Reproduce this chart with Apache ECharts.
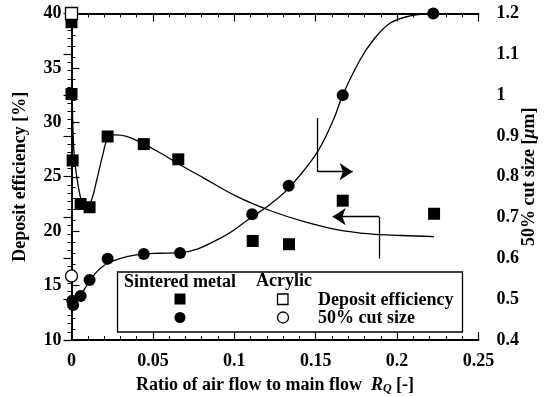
<!DOCTYPE html>
<html>
<head>
<meta charset="utf-8">
<script src="https://cdn.jsdelivr.net/npm/echarts@6/dist/echarts.min.js"></script>
<style>
html, body { margin: 0; padding: 0; background: #fff; }
#main { width: 547px; height: 397px; }
</style>
</head>
<body>
<div id="main"></div>
<script>
// sintered metal, deposit efficiency [%] (left axis)
var deX = [0, 0, 0.0007, 0.0056, 0.0111, 0.0222, 0.0444, 0.0656, 0.1113, 0.1336, 0.1666, 0.2227];
var deY = [39.2, 32.6, 26.5, 22.5, 22.2, 28.7, 28.0, 26.6, 19.1, 18.8, 22.8, 21.6];
// sintered metal, 50% cut size [um] (right axis)
var csX = [0.0005, 0.001, 0.0056, 0.0111, 0.0222, 0.0444, 0.0667, 0.111, 0.1334, 0.1666, 0.2222];
var csY = [0.496, 0.486, 0.508, 0.547, 0.599, 0.611, 0.613, 0.708, 0.778, 1.0, 1.2];
// acrylic
var deAcX = [0], deAcY = [40];
var csAcX = [0], csAcY = [0.557];
// fitted curves
var deFitX = [0, 0.0004, 0.0011, 0.0021, 0.0042, 0.0063, 0.0089, 0.0124, 0.0155, 0.0195, 0.0222, 0.0267, 0.0339, 0.0445, 0.0544, 0.0656, 0.081, 0.1015, 0.1219, 0.1424, 0.1629, 0.1834, 0.2027, 0.2227];
var deFitY = [40, 33, 28.4, 26.3, 24.1, 22.7, 22.0, 22.9, 24.7, 27.2, 28.5, 28.84, 28.7, 28.0, 27.2, 26.2, 24.9, 23.2, 21.9, 20.9, 20.15, 19.75, 19.6, 19.5];
var csFitX = [0, 0.0021, 0.0052, 0.0083, 0.0109, 0.0155, 0.0222, 0.0339, 0.0445, 0.0544, 0.0667, 0.0912, 0.111, 0.1219, 0.1334, 0.1506, 0.1608, 0.1666, 0.1772, 0.1854, 0.1956, 0.2079, 0.2222];
var csFitY = [0.486, 0.498, 0.506, 0.527, 0.543, 0.567, 0.588, 0.604, 0.611, 0.6125, 0.614, 0.649, 0.702, 0.732, 0.772, 0.858, 0.939, 1.0, 1.086, 1.135, 1.176, 1.194, 1.2];
// tick labels
var xTickLabels = ['0', '0.05', '0.1', '0.15', '0.2', '0.25'];
var yLeftTickLabels = ['10', '15', '20', '25', '30', '35', '40'];
var yRightTickLabels = ['0.4', '0.5', '0.6', '0.7', '0.8', '0.9', '1', '1.1', '1.2'];
// arrows (x, deposit efficiency coords)
var arrowStems = [[[0.1512, 30.4], [0.1512, 25.47]], [[0.189, 17.5], [0.189, 21.33]]];
var arrowHeads = [[[0.1512, 25.47], [0.1727, 25.47]], [[0.189, 21.33], [0.1604, 21.33]]];

function zip(a, b) {
  var out = [];
  for (var i = 0; i < a.length; i++) out.push([a[i], b[i]]);
  return out;
}

var FONT = "'Liberation Serif', 'Times New Roman', serif";
var txt = { fontFamily: FONT, fontWeight: 'bold', fontSize: 18, color: '#000' };

var tickCommon = {
  axisLine: { show: true, lineStyle: { color: '#000', width: 2 } },
  axisTick: { show: true, inside: true, length: 8, lineStyle: { color: '#000', width: 1.2 } },
  minorTick: { show: true, splitNumber: 5, length: 4, lineStyle: { color: '#000', width: 1 } },
  splitLine: { show: false },
  minorSplitLine: { show: false }
};

var myChart = echarts.init(document.getElementById('main'));
var option = {
  animation: false,
  grid: { left: 71.5, right: 68.5, top: 13.5, bottom: 57, containLabel: false, outerBoundsMode: 'none' },
  xAxis: [
    Object.assign({
      type: 'value', min: 0, max: 0.25, interval: 0.05, position: 'bottom',
      axisLabel: Object.assign({ margin: 12, formatter: function (v, i) { return xTickLabels[i]; } }, txt),
      name: '{t|Ratio of air flow to main flow  }{i|R}{s|Q}{t| [-]}',
      nameLocation: 'middle', nameGap: 35,
      nameTextStyle: {
        rich: {
          t: txt,
          i: Object.assign({}, txt, { fontStyle: 'italic' }),
          s: Object.assign({}, txt, { fontStyle: 'italic', fontSize: 12, padding: [8, 0, 0, 0] })
        }
      }
    }, tickCommon),
    Object.assign({
      type: 'value', min: 0, max: 0.25, interval: 0.05, position: 'top',
      axisLabel: { show: false }
    }, tickCommon)
  ],
  yAxis: [
    Object.assign({
      type: 'value', min: 10, max: 40, interval: 5, position: 'left',
      axisLabel: Object.assign({ margin: 10, formatter: function (v, i) { return yLeftTickLabels[i]; } }, txt),
      name: 'Deposit efficiency [%]', nameLocation: 'middle', nameGap: 42, nameRotate: 90,
      nameMoveOverlap: false,
      nameTextStyle: txt
    }, tickCommon),
    Object.assign({
      type: 'value', min: 0.4, max: 1.2, interval: 0.1, position: 'right',
      axisLabel: Object.assign({ margin: 18, formatter: function (v, i) { return yRightTickLabels[i]; } }, txt),
      name: '{t|50% cut size [}{i|\u03bc}{t|m]}', nameLocation: 'middle', nameGap: 42, nameRotate: 90,
      nameMoveOverlap: false,
      nameTextStyle: {
        rich: {
          t: txt,
          i: Object.assign({}, txt, { fontStyle: 'italic' })
        }
      }
    }, tickCommon)
  ],
  series: [
    {
      type: 'line', data: zip(deFitX, deFitY), yAxisIndex: 0,
      smooth: 0.4, showSymbol: false, symbol: 'none',
      lineStyle: { color: '#000', width: 1.3 }, clip: false, z: 2
    },
    {
      type: 'line', data: zip(csFitX, csFitY), yAxisIndex: 1,
      smooth: 0.4, showSymbol: false, symbol: 'none',
      lineStyle: { color: '#000', width: 1.3 }, clip: false, z: 2
    },
    {
      type: 'scatter', data: zip(deX, deY), yAxisIndex: 0, symbol: 'rect', symbolSize: 12,
      itemStyle: { color: '#000', opacity: 1 }, clip: false, z: 3
    },
    {
      type: 'scatter', data: zip(csX, csY), yAxisIndex: 1, symbol: 'circle', symbolSize: 12,
      itemStyle: { color: '#000', opacity: 1 }, clip: false, z: 3
    },
    {
      type: 'scatter', data: zip(deAcX, deAcY), yAxisIndex: 0, symbol: 'rect', symbolSize: 12,
      itemStyle: { color: '#fff', borderColor: '#000', borderWidth: 1.3, opacity: 1 }, clip: false, z: 4
    },
    {
      type: 'scatter', data: zip(csAcX, csAcY), yAxisIndex: 1, symbol: 'circle', symbolSize: 12,
      itemStyle: { color: '#fff', borderColor: '#000', borderWidth: 1.3, opacity: 1 }, clip: false, z: 4
    },
    {
      type: 'lines', coordinateSystem: 'cartesian2d', yAxisIndex: 0,
      data: arrowStems.map(function (c) { return { coords: c }; }),
      symbol: 'none', lineStyle: { color: '#000', width: 1.3, opacity: 1 }, z: 5
    },
    {
      type: 'lines', coordinateSystem: 'cartesian2d', yAxisIndex: 0,
      data: arrowHeads.map(function (c) { return { coords: c }; }),
      symbol: ['none', 'arrow'], symbolSize: [9, 13],
      lineStyle: { color: '#000', width: 1.3, opacity: 1 }, z: 5
    }
  ],
  graphic: [
    { type: 'rect', shape: { x: 117.5, y: 272, width: 345, height: 60 },
      style: { fill: '#fff', stroke: '#000', lineWidth: 1.3 }, z: 10 },
    { type: 'text', x: 180, y: 282, z: 11,
      style: { text: 'Sintered metal', align: 'center', verticalAlign: 'middle', fill: '#000', font: 'bold 18px ' + FONT } },
    { type: 'text', x: 284, y: 281, z: 11,
      style: { text: 'Acrylic', align: 'center', verticalAlign: 'middle', fill: '#000', font: 'bold 18px ' + FONT } },
    { type: 'text', x: 318, y: 300, z: 11,
      style: { text: 'Deposit efficiency', align: 'left', verticalAlign: 'middle', fill: '#000', font: 'bold 18px ' + FONT } },
    { type: 'text', x: 318, y: 318.5, z: 11,
      style: { text: '50% cut size', align: 'left', verticalAlign: 'middle', fill: '#000', font: 'bold 18px ' + FONT } },
    { type: 'rect', shape: { x: 174.5, y: 293.5, width: 11, height: 11 }, style: { fill: '#000' }, z: 11 },
    { type: 'circle', shape: { cx: 180, cy: 317.5, r: 5.5 }, style: { fill: '#000' }, z: 11 },
    { type: 'rect', shape: { x: 277.5, y: 294, width: 10.5, height: 10.5 }, style: { fill: '#fff', stroke: '#000', lineWidth: 1.3 }, z: 11 },
    { type: 'circle', shape: { cx: 283, cy: 317.5, r: 5.5 }, style: { fill: '#fff', stroke: '#000', lineWidth: 1.3 }, z: 11 }
  ]
};
myChart.setOption(option);
</script>
</body>
</html>
